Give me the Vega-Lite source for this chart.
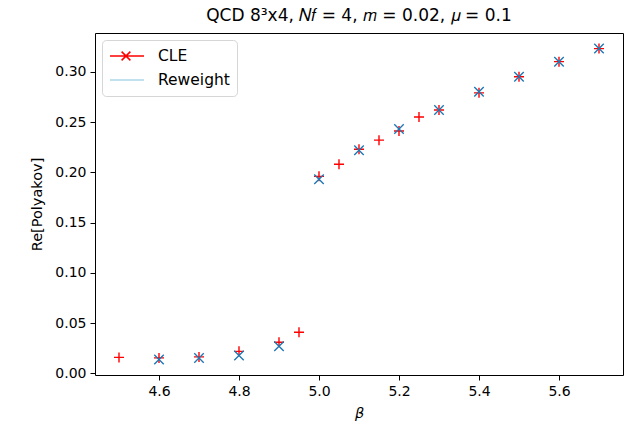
{
  "$schema": "https://vega.github.io/schema/vega-lite/v6.json",
  "width": 528,
  "height": 342,
  "autosize": "none",
  "padding": {"left": 95, "top": 33, "right": 3, "bottom": 51},
  "background": "white",
  "config": {
    "font": "DejaVu Sans",
    "view": {"stroke": "black", "strokeWidth": 1},
    "axis": {"grid": false, "domain": false, "tickColor": "black", "tickSize": 5, "labelPadding": 4, "labelFontSize": 14, "labelColor": "black", "titleFontSize": 14.5, "titleFontWeight": "normal", "titleColor": "black", "labelFont": "DejaVu Sans", "titleFont": "DejaVu Sans"}
  },
  "title": {"text": "QCD 8³x4, 𝑁𝑓 = 4, 𝑚 = 0.02, 𝜇 = 0.1", "fontSize": 17, "fontWeight": "normal", "font": "DejaVu Sans", "color": "black", "offset": 8},
  "datasets": {
    "points": [
      {"beta": 4.5, "val": 0.016, "series": "CLE"},
      {"beta": 4.6, "val": 0.0155, "series": "CLE"},
      {"beta": 4.7, "val": 0.0165, "series": "CLE"},
      {"beta": 4.8, "val": 0.022, "series": "CLE"},
      {"beta": 4.9, "val": 0.031, "series": "CLE"},
      {"beta": 4.95, "val": 0.041, "series": "CLE"},
      {"beta": 5.0, "val": 0.196, "series": "CLE"},
      {"beta": 5.05, "val": 0.208, "series": "CLE"},
      {"beta": 5.1, "val": 0.223, "series": "CLE"},
      {"beta": 5.15, "val": 0.232, "series": "CLE"},
      {"beta": 5.2, "val": 0.241, "series": "CLE"},
      {"beta": 5.25, "val": 0.255, "series": "CLE"},
      {"beta": 5.3, "val": 0.262, "series": "CLE"},
      {"beta": 5.4, "val": 0.279, "series": "CLE"},
      {"beta": 5.5, "val": 0.295, "series": "CLE"},
      {"beta": 5.6, "val": 0.310, "series": "CLE"},
      {"beta": 5.7, "val": 0.323, "series": "CLE"},
      {"beta": 4.6, "val": 0.014, "series": "Reweight"},
      {"beta": 4.7, "val": 0.0155, "series": "Reweight"},
      {"beta": 4.8, "val": 0.018, "series": "Reweight"},
      {"beta": 4.9, "val": 0.027, "series": "Reweight"},
      {"beta": 5.0, "val": 0.193, "series": "Reweight"},
      {"beta": 5.1, "val": 0.222, "series": "Reweight"},
      {"beta": 5.2, "val": 0.243, "series": "Reweight"},
      {"beta": 5.3, "val": 0.262, "series": "Reweight"},
      {"beta": 5.4, "val": 0.280, "series": "Reweight"},
      {"beta": 5.5, "val": 0.295, "series": "Reweight"},
      {"beta": 5.6, "val": 0.310, "series": "Reweight"},
      {"beta": 5.7, "val": 0.323, "series": "Reweight"}
    ],
    "legendrows": [
      {"series": "CLE"},
      {"series": "Reweight"}
    ]
  },
  "encoding": {
    "x": {"field": "beta", "type": "quantitative", "scale": {"domain": [4.44, 5.76], "nice": false, "zero": false},
      "axis": {"values": [4.6, 4.8, 5.0, 5.2, 5.4, 5.6], "format": ".1f", "title": "β", "titleFontStyle": "italic", "titlePadding": 8}},
    "y": {"field": "val", "type": "quantitative", "scale": {"domain": [-0.0015, 0.3385], "nice": false, "zero": false},
      "axis": {"values": [0, 0.05, 0.1, 0.15, 0.2, 0.25, 0.3], "format": ".2f", "title": "Re[Polyakov]", "titlePadding": 10}}
  },
  "layer": [
    {
      "data": {"name": "legendrows"},
      "mark": {"type": "point", "filled": false, "strokeWidth": 1.5},
      "encoding": {
        "color": {"field": "series", "type": "nominal",
          "scale": {"domain": ["CLE", "Reweight"], "range": ["red", "lightblue"]},
          "legend": {
            "title": null, "orient": "top-left", "offset": 7, "padding": 7,
            "fillColor": "white", "strokeColor": "#d6d6d6", "cornerRadius": 4,
            "labelFontSize": 15.5, "labelColor": "black", "labelFont": "DejaVu Sans", "labelOffset": 31,
            "symbolSize": 256, "symbolStrokeWidth": 1.5, "rowPadding": 6, "symbolOpacity": 1
          }},
        "shape": {"field": "series", "type": "nominal",
          "scale": {"domain": ["CLE", "Reweight"], "range": ["M-1,0L3.25,0M0.45,-0.55L1.55,0.55M0.45,0.55L1.55,-0.55", "M-1,0L3.25,0"]}}
      }
    },
    {
      "data": {"name": "points"},
      "mark": {"type": "point", "filled": false, "size": 100, "strokeWidth": 1.4, "opacity": 1},
      "encoding": {
        "stroke": {"field": "series", "type": "nominal",
          "scale": {"domain": ["CLE", "Reweight"], "range": ["red", "#1f77b4"]}, "legend": null},
        "shape": {"field": "series", "type": "nominal",
          "scale": {"domain": ["CLE", "Reweight"], "range": ["M-1,0L1,0M0,-1L0,1", "M-0.95,-0.95L0.95,0.95M-0.95,0.95L0.95,-0.95"]}, "legend": null}
      }
    }
  ],
  "resolve": {"scale": {"shape": "independent", "color": "independent", "stroke": "independent"}, "legend": {"shape": "independent", "color": "independent"}}
}
